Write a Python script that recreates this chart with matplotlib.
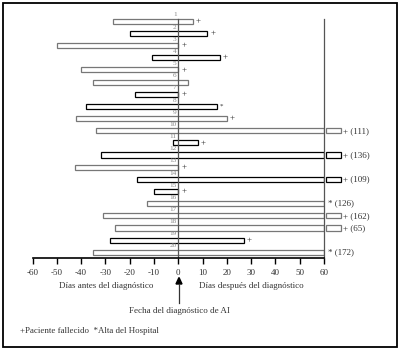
import matplotlib
matplotlib.use("Agg")
import matplotlib.pyplot as plt
from matplotlib.patches import Rectangle, Polygon

plt.rcParams['font.family'] = ['Liberation Serif', 'DejaVu Serif']

# patients 1..20: first day of the episode, last day (real value, clipped at 60 on the chart)
patients = list(range(1, 21))
starts = [-27, -20, -50, -11, -40, -35, -18, -38, -42, -34,
          -2, -32, -42.5, -17, -10, -13, -31, -26, -28, -35]
ends = [6, 12, 0, 17, 0, 4, 0, 16, 20, 111,
        8, 136, 0, 109, 0, 126, 162, 65, 27, 172]
# '+' patient died, '*' discharged, '' nothing
outcome = ['+', '+', '+', '+', '+', '', '+', '*', '+', '+',
           '+', '+', '+', '+', '+', '*', '+', '+', '+', '*']
dark = [False, True, False, True, False, False, True, True, False, False,
        True, True, False, True, True, False, False, False, True, False]
xticks = [-60, -50, -40, -30, -20, -10, 0, 10, 20, 30, 40, 50, 60]

fig = plt.figure(figsize=(4.0, 3.51), dpi=100)
ax = fig.add_axes([32.5 / 400, 1 - 258 / 351, (324 - 32.5) / 400, 248 / 351])
ax.set_xlim(-60, 60)
ax.set_ylim(20.47, 0.07)

for p, s, e, o, d in zip(patients, starts, ends, outcome, dark):
    col = 'black' if d else '#777777'
    right = min(e, 60)
    ax.barh(p, right - s, left=s, height=0.42, fill=False, edgecolor=col, linewidth=0.9)
    ax.text(-0.7, p - 0.52, str(p), ha='right', va='center', fontsize=5.2, color='#888888')
    if e > 60:
        if o == '+':
            ax.add_patch(Rectangle((61, p - 0.21), 6, 0.42, fill=False, edgecolor=col,
                                   linewidth=0.9, clip_on=False))
            ax.text(68, p, '+ (%d)' % e, ha='left', va='center', fontsize=6.5,
                    color='#333333', clip_on=False)
        else:
            ax.text(61.5, p, '* (%d)' % e, ha='left', va='center', fontsize=6.5,
                    color='#333333', clip_on=False)
    elif o:
        ax.text(right + 1.2, p, o, ha='left', va='center',
                fontsize=6.5 if o == '+' else 5, color='#333333')

ax.plot([0, 0], [0.8, 20.47], color='#555555', linewidth=0.9)
ax.plot([60, 60], [0.8, 20.47], color='#555555', linewidth=0.9, clip_on=False)

for sp in ['top', 'right', 'left']:
    ax.spines[sp].set_visible(False)
ax.spines['bottom'].set_linewidth(1.2)
ax.set_yticks([])
ax.set_xticks(xticks)
ax.set_xticklabels([str(t) for t in xticks])
ax.tick_params(axis='x', direction='out', length=4, width=1, labelsize=6.5,
               labelcolor='#333333', pad=4)

# overlay in pixel coordinates for captions, arrow and frame
ov = fig.add_axes([0, 0, 1, 1])
ov.set_xlim(0, 400)
ov.set_ylim(351, 0)
ov.axis('off')
ov.add_patch(Rectangle((3, 3), 394, 344, fill=False, edgecolor='black', linewidth=1.3))
ov.text(106, 286, 'Días antes del diagnóstico', ha='center', va='center', fontsize=6.5, color='#333333')
ov.text(251, 286, 'Días después del diagnóstico', ha='center', va='center', fontsize=6.5, color='#333333')
ov.add_patch(Polygon([[179, 277.5], [176, 284], [182, 284]], closed=True, color='black'))
ov.plot([179, 179], [284, 303], color='#333333', linewidth=0.9)
ov.text(179, 311, 'Fecha del diagnóstico de AI', ha='center', va='center', fontsize=6.5, color='#333333')
ov.text(20, 331, '+Paciente fallecido  *Alta del Hospital', ha='left', va='center', fontsize=6.4,
        color='#333333')

fig.savefig('out.png', dpi=100)
